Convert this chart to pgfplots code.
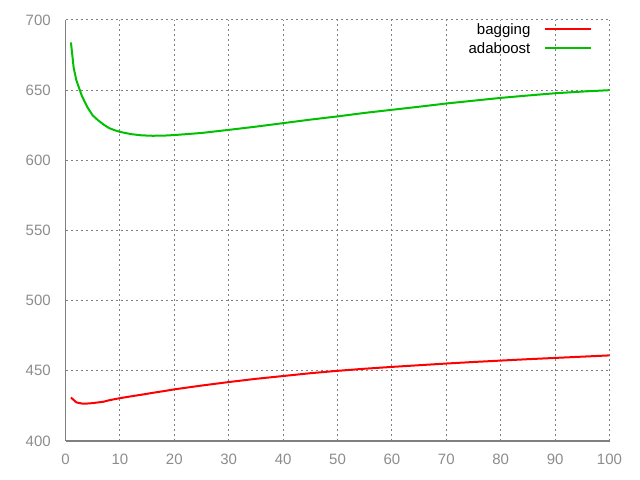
\documentclass[border=0pt]{standalone}
\usepackage{pgfplots}
\pgfplotsset{compat=1.18}
\usepackage{fontspec}
\setmainfont{Liberation Sans}

\definecolor{gpred}{RGB}{255,0,0}
\definecolor{gpgreen}{RGB}{0,192,0}
\definecolor{gpgray}{RGB}{128,128,128}
\definecolor{gplabel}{RGB}{140,140,140}

\begin{document}
\begin{tikzpicture}
\fontsize{11.25bp}{13.5bp}\selectfont
\path (0,0) rectangle (480bp,360bp);
\begin{axis}[
    at={(49.125bp,29.25bp)}, anchor=south west,
    scale only axis, width=408bp, height=315.75bp,
    xmin=0, xmax=100, ymin=400, ymax=700,
    xtick={0,10,...,100}, ytick={400,450,...,700},
    axis lines*=left,
    axis line style={gpgray, line width=0.9bp, -},
    major tick length=0pt,
    grid=major,
    major grid style={gpgray, line width=0.75bp, dash pattern=on 1.5bp off 2.25bp},
    tick label style={font=\fontsize{11.25bp}{13.5bp}\selectfont, text=gplabel, inner sep=0pt},
    xticklabel style={anchor=north, yshift=-9.75bp},
    yticklabel style={anchor=east, xshift=-10.9bp},
    /pgf/number format/assume math mode=true,
    legend style={draw=none, fill=none, at={(0.969,0.9924)}, anchor=north east,
        inner sep=0pt, row sep=0pt, column sep=10.5bp,
        nodes={inner sep=0pt, text height=8bp, text depth=6.25bp,
               font=\fontsize{11.25bp}{13.5bp}\selectfont}},
    legend plot pos=right,
    legend cell align=right,
    legend image code/.code={\draw[#1] (0bp,3.2bp) -- (34.5bp,3.2bp);},
]
\addplot[gpred, line width=1.5bp] coordinates {
(1,431) (2,427.5) (3,426.7) (4,426.7) (5,427) (6,427.5) (7,428) (8,429) (9,429.8) (10,430.5)
(12,431.8) (14,433) (16,434.3) (18,435.5) (20,436.8) (25,439.5) (30,442) (35,444.3)
(40,446.3) (45,448.3) (50,450) (55,451.5) (60,452.8) (65,454) (70,455.2) (75,456.3)
(80,457.3) (85,458.3) (90,459.2) (95,460.1) (100,461)
};
\addlegendentry{bagging}
\addplot[gpgreen, line width=1.5bp] coordinates {
(1,684) (1.5,666) (2,657) (3,646) (4,638) (5,632) (6,628.5) (7,625.5) (8,623) (9,621.5) (10,620.3)
(12,618.7) (14,617.8) (16,617.5) (18,617.6) (20,618) (25,619.5) (30,621.7) (35,624)
(40,626.5) (45,629) (50,631.3) (55,633.8) (60,636) (65,638.2) (70,640.5) (75,642.5)
(80,644.5) (85,646.2) (90,647.8) (95,649) (100,650)
};
\addlegendentry{adaboost}
\end{axis}
\end{tikzpicture}
\end{document}
